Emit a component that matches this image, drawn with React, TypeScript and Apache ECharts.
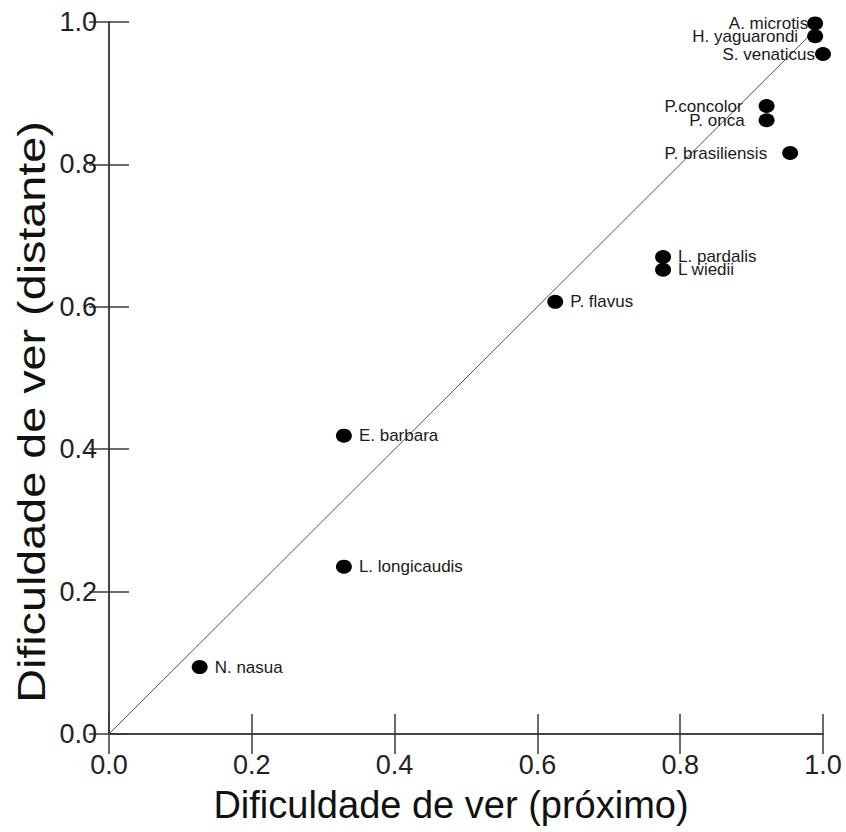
import React, { useEffect, useRef } from "react";
import * as echarts from "echarts";

const speciesNames = [
  "A. microtis",
  "H. yaguarondi",
  "S. venaticus",
  "P.concolor",
  "P. onca",
  "P. brasiliensis",
  "L. pardalis",
  "L wiedii",
  "P. flavus",
  "E. barbara",
  "L. longicaudis",
  "N. nasua",
];
const nearValues = [0.989, 0.989, 1.0, 0.921, 0.921, 0.954, 0.776, 0.776, 0.625, 0.329, 0.329, 0.127];
const distantValues = [0.998, 0.98, 0.955, 0.882, 0.862, 0.816, 0.67, 0.652, 0.607, 0.419, 0.235, 0.094];
const leftLabelled = ["A. microtis", "H. yaguarondi", "S. venaticus", "P.concolor", "P. onca", "P. brasiliensis"];
const tickValues = [0, 0.2, 0.4, 0.6, 0.8, 1.0];
const xTitle = "Dificuldade de ver (próximo)";
const yTitle = "Dificuldade de ver (distante)";

const labelDistances: Record<string, number> = {
  "A. microtis": -1,
  "H. yaguarondi": 9,
  "S. venaticus": 0,
  "P.concolor": 16,
  "P. onca": 14,
  "P. brasiliensis": 15,
};

export default function App() {
  const ref = useRef<HTMLDivElement>(null);
  useEffect(() => {
    if (!ref.current) return;
    const chart = echarts.init(ref.current, null, { renderer: "svg" });
    const font = "Liberation Sans, Arial, sans-serif";
    const axisColor = "#3a3a3a";
    const commonAxis = {
      type: "value" as const,
      min: tickValues[0],
      max: tickValues[tickValues.length - 1],
      interval: 0.2,
      splitLine: { show: false },
      axisLine: { show: true, lineStyle: { color: axisColor, width: 1.5 } },
      axisTick: { show: true, inside: true, length: 20, lineStyle: { color: axisColor, width: 1.5 } },
    };
    const scatterData = speciesNames.map((n, i) => {
      const left = leftLabelled.includes(n);
      return {
        name: n,
        value: [nearValues[i], distantValues[i]],
        label: {
          show: true,
          formatter: n,
          position: left ? "left" : "right",
          distance: left ? labelDistances[n] : 7,
        },
      };
    });
    chart.setOption({
      animation: false,
      backgroundColor: "#ffffff",
      grid: { left: 109, right: 23, top: 22, bottom: 98, containLabel: false },
      xAxis: [
        {
          ...commonAxis,
          position: "bottom",
          axisLabel: {
            show: true,
            margin: 17,
            fontSize: 27,
            fontFamily: font,
            color: "#222",
            formatter: (v: number) => v.toFixed(1),
          },
        },
        { ...commonAxis, position: "top", axisLabel: { show: false } },
      ],
      yAxis: [
        {
          ...commonAxis,
          position: "left",
          axisLabel: {
            show: true,
            margin: 12,
            fontSize: 27,
            fontFamily: font,
            color: "#222",
            formatter: (v: number) => v.toFixed(1),
          },
        },
        { ...commonAxis, position: "right", axisLabel: { show: false } },
      ],
      series: [
        {
          type: "line",
          data: [
            [tickValues[0], tickValues[0]],
            [tickValues[tickValues.length - 1], tickValues[tickValues.length - 1]],
          ],
          symbol: "none",
          lineStyle: { color: "#555", width: 1 },
          silent: true,
          z: 1,
        },
        {
          type: "scatter",
          data: scatterData,
          symbol: "circle",
          symbolSize: [16, 14],
          itemStyle: { color: "#000", opacity: 1 },
          label: { fontSize: 17, fontFamily: font, color: "#1a1a1a" },
          z: 3,
        },
      ],
      graphic: [
        {
          type: "text",
          x: 451,
          y: 805,
          style: {
            text: xTitle,
            fontSize: 38,
            fontFamily: font,
            fill: "#111",
            textAlign: "center",
            textVerticalAlign: "middle",
          },
        },
        {
          type: "text",
          x: 32,
          y: 412,
          rotation: Math.PI / 2,
          scaleX: 1.23,
          style: {
            text: yTitle,
            fontSize: 38,
            fontFamily: font,
            fill: "#111",
            textAlign: "center",
            textVerticalAlign: "middle",
          },
        },
      ],
    });
    return () => chart.dispose();
  }, []);
  return (
    <div
      ref={ref}
      style={{ position: "absolute", left: 0, top: 0, width: 846, height: 832 }}
    />
  );
}
